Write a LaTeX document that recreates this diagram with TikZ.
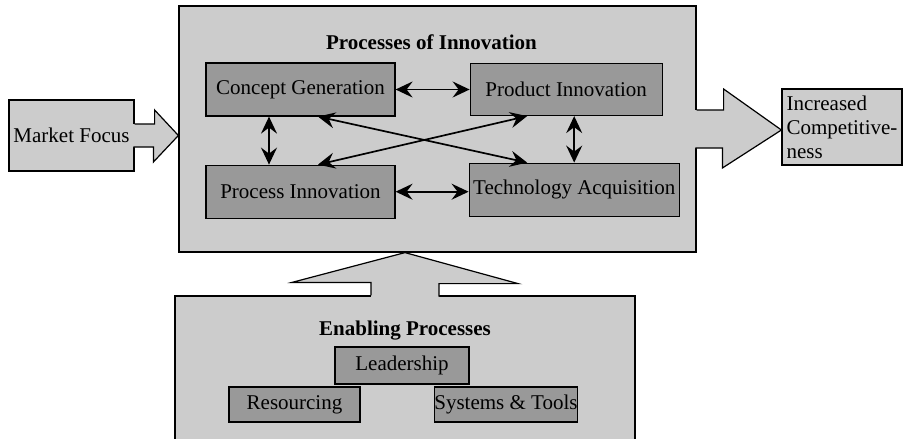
\documentclass[tikz,border=0pt]{standalone}
\usepackage{fontspec}
\setmainfont{Liberation Serif}
\usetikzlibrary{positioning,arrows.meta}
\definecolor{outerfill}{HTML}{CCCCCC}
\definecolor{innerfill}{HTML}{999999}

\begin{document}
\begin{tikzpicture}[x=1pt,y=-1pt,
  every node/.style={font=\fontsize{21}{24}\selectfont},
  outer/.style={draw, fill=outerfill, line width=1.2pt, inner sep=0pt},
  inner/.style={draw, fill=innerfill, line width=1.2pt, inner sep=0pt},
  heading/.style={font=\fontsize{21}{24}\selectfont\bfseries, inner sep=0pt},
  link/.style={<->, >={Stealth[length=17pt,width=16pt,inset=6pt]}, line width=1.7pt},
  blockline/.style={line width=1.2pt, line join=miter}]

  \clip (0,0) rectangle (903,439);

  % Define nodes
  \node[outer, minimum width=517pt, minimum height=246pt] (pin) at (437.5,129) {};
  \node[outer, minimum width=460pt, minimum height=180pt] (ep)  at (405,386) {};
  \node[outer, minimum width=125pt, minimum height=71pt]  (mf)  at (71.5,135.5) {Market Focus};
  \node[outer, minimum width=120pt, minimum height=76pt, align=left] (ic) at (842,127)
    {Increased\\Competitive-\\ness};

  \node[heading, anchor=base] (pintitle) at ([shift={(-6pt,-44pt)}]pin.north) {Processes of Innovation};
  \node[inner, minimum width=189pt, minimum height=53pt]                      (cg)  at (300.5,89.5) {Concept Generation};
  \node[inner, minimum width=192pt, minimum height=52pt, right=74pt of cg]    (pdi) {Product Innovation};
  \node[inner, minimum width=189pt, minimum height=53pt, below=48pt of cg]    (pci) {Process Innovation};
  \node[inner, minimum width=210pt, minimum height=53pt, right=73pt of pci,
        yshift=2pt]                                                           (ta)  {Technology Acquisition};

  \node[heading, anchor=base] (eptitle) at ([yshift=-40pt]ep.north) {Enabling Processes};
  \node[inner, minimum width=134pt, minimum height=37pt] (lead) at (402,365.5) {Leadership};
  \node[inner, minimum width=131pt, minimum height=35pt] (res)  at (294.5,404.5) {Resourcing};
  \node[inner, minimum width=136pt, minimum height=35pt] (sys)  at (506,404.5) {Systems \& Tools};

  % Block arrows
  \fill[outerfill] ([shift={(-2pt,11.5pt)}]mf.east) -- ++(22,0) -- ++(0,-14) -- (pin.west |- mf.east)
    -- ++(-25,26.5) -- ++(0,-15) -- ++(-22,0) -- cycle;
  \draw[blockline] ([yshift=11.5pt]mf.east) -- ++(20,0) -- ++(0,-14) -- (pin.west |- mf.east)
    -- ++(-25,26.5) -- ++(0,-15) -- ++(-20,0);

  \fill[outerfill] ([shift={(-2pt,19pt)}]pin.east) -- ++(29,0) -- ++(0,-21) -- ([yshift=-3pt]ic.west)
    -- ++(-59,38) -- ++(0,-20) -- ++(-29,0) -- cycle;
  \draw[blockline] ([yshift=19pt]pin.east) -- ++(27,0) -- ++(0,-21) -- ([yshift=-3pt]ic.west)
    -- ++(-59,38) -- ++(0,-20) -- ++(-27,0);

  \fill[outerfill] ([shift={(-34pt,-2pt)}]ep.north) -- ++(0,-15) -- ++(-79,0) -- (ep.north |- pin.south)
    -- ++(113,31) -- ++(-79,0) -- ++(0,15) -- cycle;
  \draw[blockline] ([xshift=-34pt]ep.north) -- ++(0,-13) -- ++(-79,0) -- (ep.north |- pin.south)
    -- ++(113,31) -- ++(-79,0) -- ++(0,13);

  % Connect the nodes
  \draw[link] (cg) -- (pdi);
  \draw[link] (pci.east) -- (pci.east -| ta.west);
  \draw[link] ([xshift=-31.5pt]cg.south) -- ([xshift=-31.5pt]pci.north);
  \draw[link] (ta.north |- pdi.south) -- (ta.north);
  \draw[link] ([xshift=17.5pt]cg.south) -- ([xshift=-47pt]ta.north);
  \draw[link] ([xshift=17.5pt]pci.north) -- ([xshift=-39pt]pdi.south);

\end{tikzpicture}
\end{document}
